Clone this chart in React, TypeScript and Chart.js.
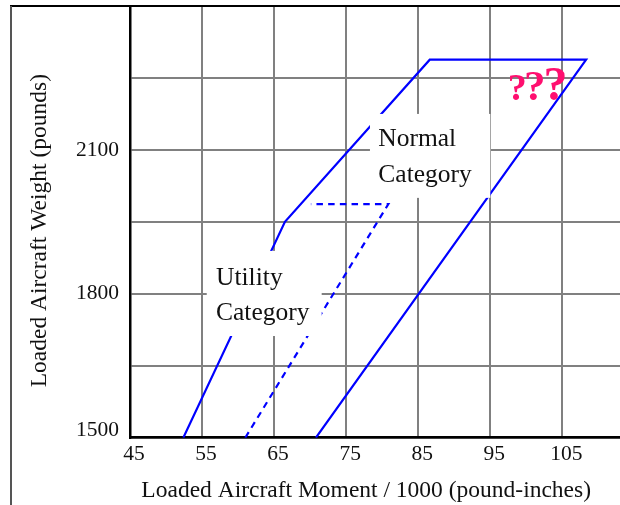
import React, { useEffect, useRef } from 'react';
import { Chart, registerables } from 'chart.js';

Chart.register(...registerables);

const FONT = "'Liberation Serif', 'Times New Roman', serif";

// Axis ticks
const xTickValues = [45, 55, 65, 75, 85, 95, 105];
const yGridValues = [1500, 1650, 1800, 1950, 2100, 2250, 2400];
const yLabelValues = [1500, 1800, 2100];

// Normal category envelope (solid)
const normalMoment = [52.4, 66.5, 86.6, 108.3, 70.8];
const normalWeight = [1500, 1950, 2288, 2288, 1500];

// Utility category envelope (dashed)
const utilityMoment = [61.0, 80.85, 70.1];
const utilityWeight = [1500, 1987, 1987];

// Category labels (anchors in data units)
const categoryNames = [['Normal', 'Category'], ['Utility', 'Category']];
const categoryTextX = [79.46, 56.94];
const categoryBaselines = [[2108.3, 2033.9], [1818.5, 1745.5]];
const categoryBoxX = [[78.3, 95.0], [55.65, 71.6]];
const categoryBoxY = [[2000, 2175], [1712, 1889.4]];

// "???" marks
const questionMarks = ['?', '?', '?'];
const questionX = [98.75, 101.18, 104.05];
const questionY = 2204;
const questionSizes = [38, 43, 48];

const xTitle = 'Loaded Aircraft Moment / 1000 (pound-inches)';
const yTitle = 'Loaded Aircraft Weight (pounds)';

const annotate = {
  id: 'annotate',
  afterDatasetsDraw(chart: any) {
    const { ctx, scales } = chart;
    const x = scales.x;
    const y = scales.y;
    ctx.save();
    categoryNames.forEach((lines, i) => {
      const x0 = x.getPixelForValue(categoryBoxX[i][0]);
      const x1 = x.getPixelForValue(categoryBoxX[i][1]);
      const y0 = y.getPixelForValue(categoryBoxY[i][0]);
      const y1 = y.getPixelForValue(categoryBoxY[i][1]);
      ctx.fillStyle = '#ffffff';
      ctx.fillRect(x0, y1, x1 - x0, y0 - y1);
      ctx.fillStyle = '#111111';
      ctx.font = `25.5px ${FONT}`;
      ctx.textAlign = 'left';
      ctx.textBaseline = 'alphabetic';
      lines.forEach((t, j) => {
        ctx.fillText(t, x.getPixelForValue(categoryTextX[i]), y.getPixelForValue(categoryBaselines[i][j]));
      });
    });
    ctx.fillStyle = '#ff0f6f';
    ctx.textAlign = 'center';
    ctx.textBaseline = 'alphabetic';
    questionMarks.forEach((q, i) => {
      ctx.font = `bold ${questionSizes[i]}px ${FONT}`;
      ctx.fillText(q, x.getPixelForValue(questionX[i]), y.getPixelForValue(questionY));
    });
    ctx.restore();
  },
  afterDraw(chart: any) {
    const { ctx, width, height } = chart;
    ctx.save();
    ctx.lineWidth = 2;
    ctx.strokeStyle = '#000000';
    ctx.beginPath();
    ctx.moveTo(10, 6);
    ctx.lineTo(width, 6);
    ctx.stroke();
    ctx.strokeStyle = '#555555';
    ctx.beginPath();
    ctx.moveTo(11, 6);
    ctx.lineTo(11, height);
    ctx.stroke();
    ctx.restore();
  },
};

export default function App() {
  const ref = useRef<HTMLCanvasElement>(null);
  useEffect(() => {
    Chart.defaults.font.family = FONT;
    const chart = new Chart(ref.current as HTMLCanvasElement, {
      type: 'scatter',
      data: {
        datasets: [
          {
            label: 'Normal Category',
            data: normalMoment.map((m, i) => ({ x: m, y: normalWeight[i] })),
            showLine: true,
            borderColor: '#0000ff',
            borderWidth: 2.2,
            pointRadius: 0,
            fill: false,
            tension: 0,
          },
          {
            label: 'Utility Category',
            data: utilityMoment.map((m, i) => ({ x: m, y: utilityWeight[i] })),
            showLine: true,
            borderColor: '#0000ff',
            borderWidth: 2.2,
            borderDash: [6.5, 5.2],
            pointRadius: 0,
            fill: false,
            tension: 0,
          },
        ],
      },
      options: {
        animation: false,
        responsive: false,
        layout: { padding: { top: 6, left: 0, right: 0, bottom: 0 } },
        plugins: { legend: { display: false }, tooltip: { enabled: false } },
        scales: {
          x: {
            type: 'linear',
            min: 45,
            max: 113,
            afterBuildTicks: (s: any) => {
              s.ticks = xTickValues.map((v) => ({ value: v }));
            },
            afterFit: (s: any) => {
              s.height = 67.3;
              s.paddingLeft = 0;
              s.paddingRight = 0;
            },
            ticks: {
              padding: 4,
              labelOffset: 4,
              color: '#111111',
              font: { size: 21.5, family: FONT },
              callback: (v: any) => String(v),
            },
            grid: { color: '#808080', lineWidth: 2, drawTicks: false },
            border: { color: '#000000', width: 2.5 },
            title: {
              display: true,
              text: xTitle + '\u00a0\u00a0\u00a0',
              color: '#111111',
              font: { size: 23.5, family: FONT },
              padding: { top: 0, bottom: 0.2 },
            },
          },
          y: {
            type: 'linear',
            min: 1500,
            max: 2400,
            afterBuildTicks: (s: any) => {
              s.ticks = yGridValues.map((v) => ({ value: v }));
            },
            afterFit: (s: any) => {
              s.width = 130;
              s.paddingTop = 0;
              s.paddingBottom = 0;
            },
            ticks: {
              padding: 11,
              color: '#111111',
              font: (c: any) => ({
                size: 21.5,
                family: FONT,
                lineHeight: c.tick && c.tick.value === yLabelValues[0] ? 0.65 : 1.2,
              }),
              callback: (v: any) => {
                if (!yLabelValues.includes(v)) return '';
                return v === yLabelValues[0] ? [String(v), ''] : String(v);
              },
            },
            grid: { color: '#808080', lineWidth: 2, drawTicks: false },
            border: { color: '#000000', width: 2.5 },
            title: {
              display: true,
              text: yTitle + '\u00a0\u00a0\u00a0',
              color: '#111111',
              font: { size: 23.5, family: FONT },
              padding: { top: 25.5, bottom: 0 },
            },
          },
        },
      },
      plugins: [annotate],
    } as any);
    return () => chart.destroy();
  }, []);
  return (
    <div style={{ position: 'fixed', left: 0, top: 0, width: 620, height: 505, background: '#ffffff' }}>
      <canvas ref={ref} width={620} height={505} style={{ display: 'block' }} />
    </div>
  );
}
